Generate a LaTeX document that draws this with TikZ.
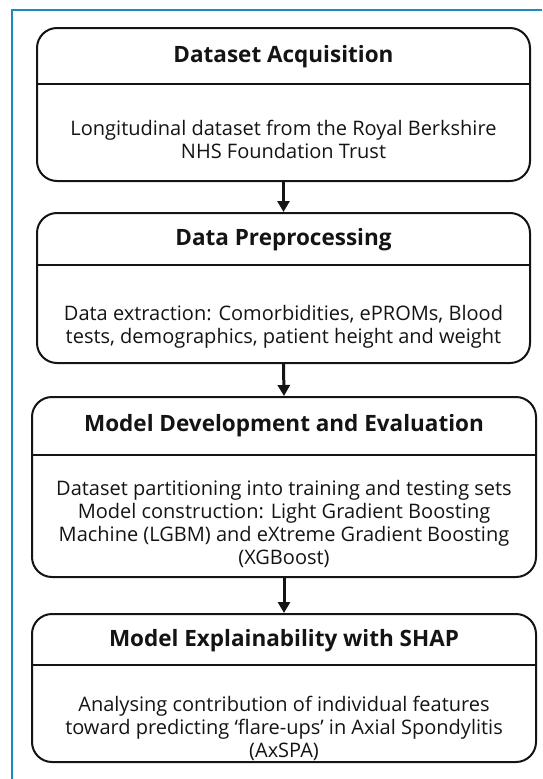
\documentclass[tikz,border=0pt]{standalone}
\usepackage{fontspec}
\setmainfont{Open Sans}
\usepackage{xcolor}
\usetikzlibrary{arrows.meta,positioning,calc}

\definecolor{framebl}{RGB}{30,137,199}
\definecolor{ink}{RGB}{20,20,20}

\begin{document}
\begin{tikzpicture}[x=1pt,y=-1pt,
    stagebox/.style={draw=ink, line width=2pt, rounded corners=20pt, inner sep=0pt},
    head/.style={font=\fontsize{22.5}{26}\selectfont\bfseries, text=ink},
    body/.style={font=\fontsize{20}{23}\selectfont, text=ink, align=center},
    divider/.style={draw=ink, line width=1.8pt},
    flow/.style={draw=ink, line width=3pt, -{Triangle[width=12pt,length=11pt]}}]
  \useasboundingbox (0,0) rectangle (542,779);

  % frame
  \draw[framebl, line width=2pt] (11.5,779) -- (11.5,9.5) -- (542,9.5);

  % stage boxes
  \node[stagebox, minimum width=493pt, minimum height=153pt] (box1) at (283.5,104.5) {};
  \node[stagebox, minimum width=493pt, minimum height=150pt] (box2) at (283.5,288) {};
  \node[stagebox, minimum width=504pt, minimum height=180pt] (box3) at (284,487) {};
  \node[stagebox, minimum width=504pt, minimum height=148pt] (box4) at (284,688) {};

  \draw[divider] (box1.west |- 0,84) -- (box1.east |- 0,84);
  \draw[divider] (box2.west |- 0,265) -- (box2.east |- 0,265);
  \draw[divider] (box3.west |- 0,455) -- (box3.east |- 0,455);
  \draw[divider] (box4.west |- 0,665) -- (box4.east |- 0,665);

  \node[head] (head1) at (283.5,57) {Dataset Acquisition};
  \node[head] (head2) at (283.5,240) {Data Preprocessing};
  \node[head] (head3) at (284,426) {Model Development and Evaluation};
  \node[head] (head4) at (284,641) {Model Explainability with SHAP};

  \node[body] (text1) at (283.5,139) {Longitudinal dataset from the Royal Berkshire\\NHS Foundation Trust};
  \node[body] (text2) at (283.5,326.5) {Data extraction: Comorbidities, ePROMs, Blood\\tests, demographics, patient height and weight};
  \node[body] (text3) at (284,524) {Dataset partitioning into training and testing sets\\Model construction: Light Gradient Boosting\\Machine (LGBM) and eXtreme Gradient Boosting\\(XGBoost)};
  \node[body] (text4) at (284,728) {Analysing contribution of individual features\\toward predicting `flare-ups' in Axial Spondylitis\\(AxSPA)};

  \draw[flow] (box1.south) -- (box2.north);
  \draw[flow] (box2.south) -- (box3.north);
  \draw[flow] (box3.south) -- (box4.north);
\end{tikzpicture}
\end{document}
